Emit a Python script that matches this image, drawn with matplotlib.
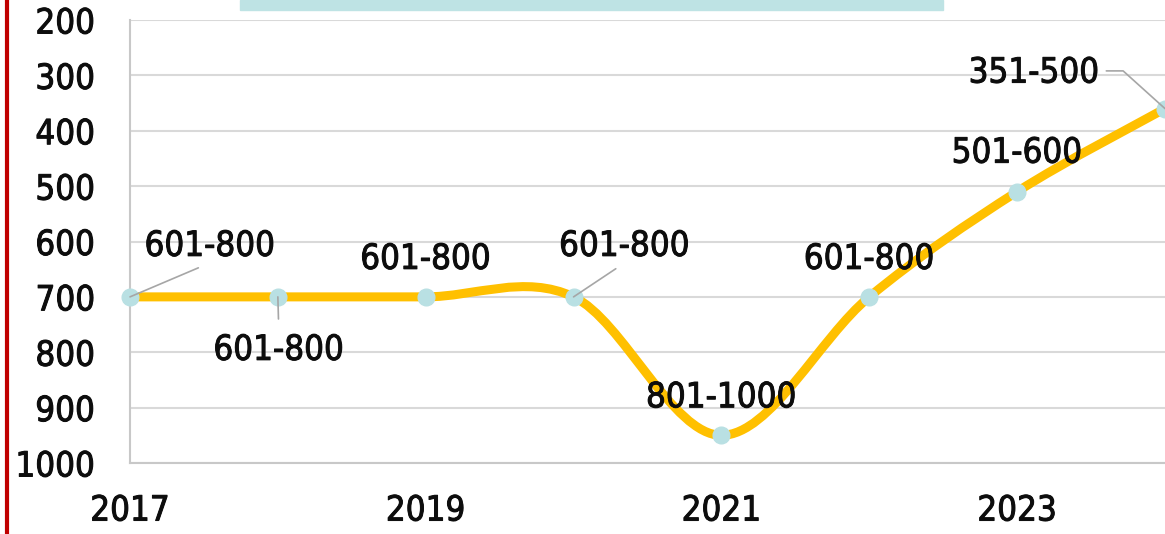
import matplotlib
matplotlib.use("Agg")
import matplotlib.pyplot as plt
import matplotlib.patheffects as pe
from matplotlib.path import Path
from matplotlib.patches import PathPatch, Rectangle
from matplotlib.lines import Line2D

years = [2017, 2018, 2019, 2020, 2021, 2022, 2023, 2024]
rank_mid = [700, 700, 700, 700, 950, 700, 510, 360]
rank_band = ['601-800', '601-800', '601-800', '601-800', '801-1000', '601-800', '501-600', '351-500']
year_ticks = [2017, 2019, 2021, 2023]
rank_ticks = [200, 300, 400, 500, 600, 700, 800, 900, 1000]

FONT = dict(family='DejaVu Sans', stretch='condensed', size=25, color='#0d0d0d')
THICK = [pe.withStroke(linewidth=0.7, foreground='#0d0d0d')]

fig = plt.figure(figsize=(11.65, 5.34), dpi=100)
ax = fig.add_axes([130/1165, (534-463)/534, 1035/1165, 443/534])

# smoothed line (excel style bezier through the points)
pts = list(zip(years, rank_mid))
verts = [pts[0]]
codes = [Path.MOVETO]
n = len(pts)
for i in range(n - 1):
    p0 = pts[max(i - 1, 0)]
    p1 = pts[i]
    p2 = pts[i + 1]
    p3 = pts[min(i + 2, n - 1)]
    c1 = (p1[0] + (p2[0] - p0[0]) / 6, p1[1] + (p2[1] - p0[1]) / 6)
    c2 = (p2[0] - (p3[0] - p1[0]) / 6, p2[1] - (p3[1] - p1[1]) / 6)
    verts += [c1, c2, p2]
    codes += [Path.CURVE4] * 3
ax.add_patch(PathPatch(Path(verts, codes), facecolor='none', edgecolor='#FFC000',
                       lw=6.5, capstyle='round', joinstyle='round', zorder=3))
ax.plot(years, rank_mid, 'o', color='#B9E0E3', markersize=12, zorder=4, clip_on=False)

ax.set_xlim(2017, 2024)
ax.set_ylim(1000, 200)
ax.set_xticks(year_ticks)
ax.set_yticks(rank_ticks)
ax.set_xticklabels([str(y) for y in year_ticks], fontdict=FONT)
ax.set_yticklabels([str(r) for r in rank_ticks], fontdict=FONT)
for t in ax.get_xticklabels() + ax.get_yticklabels():
    t.set_path_effects(THICK)
ax.tick_params(axis='y', length=0, pad=25)
ax.tick_params(axis='x', length=0, pad=22)
ax.grid(axis='y', color='#D9D9D9', lw=1.5)
ax.set_axisbelow(True)
for s in ['top', 'right']:
    ax.spines[s].set_visible(False)
for s in ['left', 'bottom']:
    ax.spines[s].set_color('#C8C8C8')
    ax.spines[s].set_linewidth(1.5)

# data labels (offsets in pixels), some with leader lines
offsets = [(80, 51), (1, -53), (0, 38), (51, 51), (0, 38), (0, 38), (0, 39), (-131, 36)]
leaders = [True, True, False, True, False, False, False, True]
for i, (x, y) in enumerate(zip(years, rank_mid)):
    dx, dy = offsets[i]
    arrow = None
    if leaders[i]:
        if i == 7:
            arrow = dict(arrowstyle='-', color='#A6A6A6', lw=1.2, relpos=(1, 0.55),
                         shrinkA=3, shrinkB=0,
                         connectionstyle='angle,angleA=0,angleB=138,rad=0')
        elif i == 1:
            arrow = dict(arrowstyle='-', color='#A6A6A6', lw=1.2, relpos=(0.5, 1),
                         shrinkA=8, shrinkB=0)
        else:
            arrow = dict(arrowstyle='-', color='#A6A6A6', lw=1.2, relpos=(0.5, 0),
                         shrinkA=4, shrinkB=0)
    ann = ax.annotate(rank_band[i], (x, y), xytext=(dx, dy), textcoords='offset pixels',
                      ha='center', va='center', fontsize=25, family='DejaVu Sans',
                      stretch='condensed', color='#0d0d0d', arrowprops=arrow, zorder=5,
                      annotation_clip=False)
    ann.set_path_effects(THICK)
    if ann.arrow_patch is not None:
        ann.arrow_patch.set_path_effects([])

fig.add_artist(Line2D([7/1165, 7/1165], [0, 1], color='#C00000', lw=3))
fig.add_artist(Rectangle((240/1165, 1 - 10/534), 703/1165, 10/534,
                         color='#BEE3E4', transform=fig.transFigure))

fig.savefig('out.png', dpi=100)
